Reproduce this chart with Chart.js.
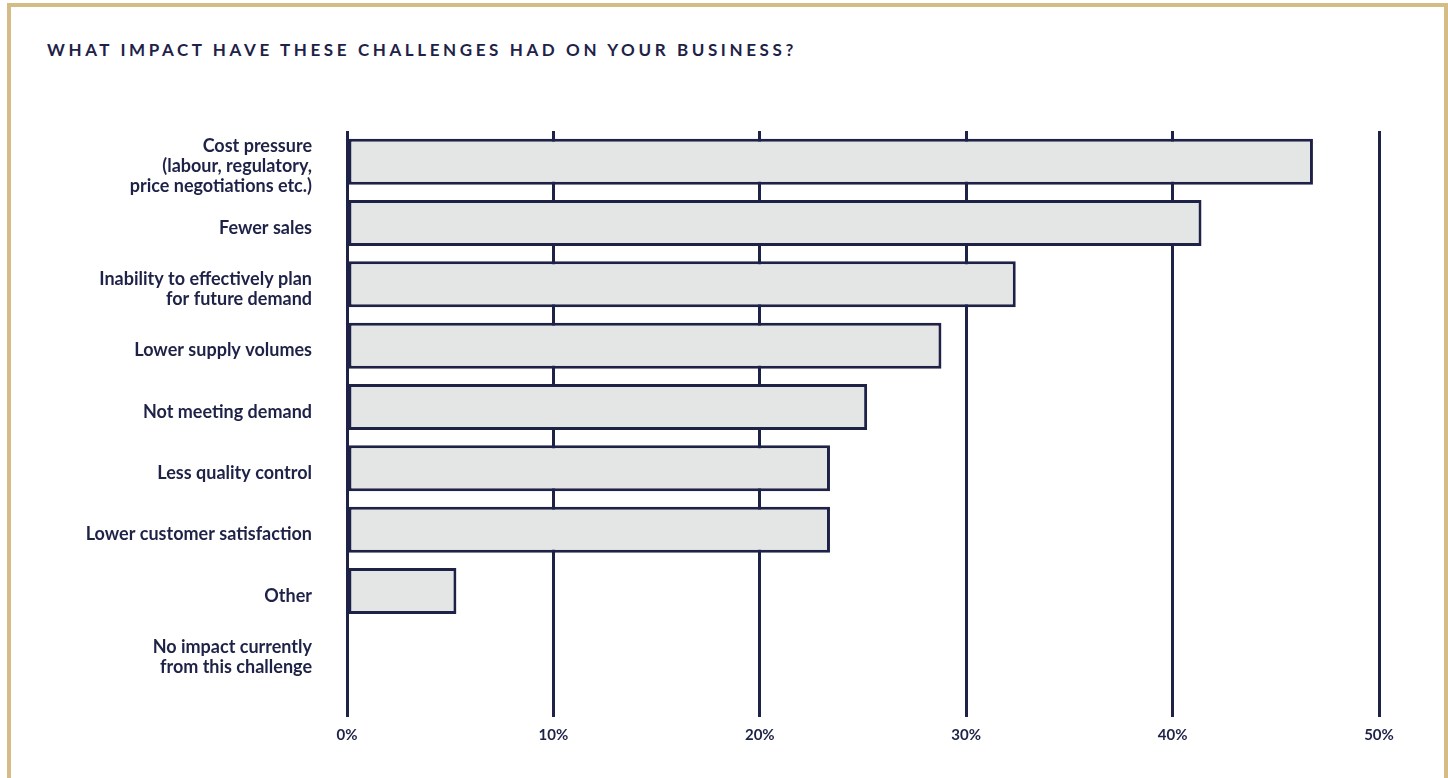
<!DOCTYPE html>
<html>
<head>
<meta charset="utf-8">
<script src="https://cdn.jsdelivr.net/npm/chart.js@4.4.1/dist/chart.umd.min.js"></script>
<style>
  html, body { margin: 0; padding: 0; background: #fff; overflow: hidden; }
  #frame {
    position: absolute; left: 7px; top: 3px;
    width: 1433px; height: 900px;
    border: 4px solid #d5bc87;
  }
  #title {
    position: absolute; left: 47px; top: 39px;
    font-family: Lato, sans-serif; font-size: 17px; font-weight: 700;
    letter-spacing: 3.6px; color: #1e2247;
  }
  #wrap { position: absolute; left: 0; top: 0; width: 1448px; height: 778px; }
</style>
</head>
<body>
<div id="frame"></div>
<div id="title">WHAT IMPACT HAVE THESE CHALLENGES HAD ON YOUR BUSINESS?</div>
<div id="wrap"><canvas id="chart"></canvas></div>
<script>
const categories = [
  ['Cost pressure', '(labour, regulatory,', 'price negotiations etc.)'],
  'Fewer sales',
  ['Inability to effectively plan', 'for future demand'],
  'Lower supply volumes',
  'Not meeting demand',
  'Less quality control',
  'Lower customer satisfaction',
  'Other',
  ['No impact currently', 'from this challenge']
];
const impactShare = [46.8, 41.4, 32.4, 28.8, 25.2, 23.4, 23.4, 5.3, 0];
const tickValues = [0, 10, 20, 30, 40, 50];

const navy = '#1e2247';

const ctx = document.getElementById('chart').getContext('2d');
new Chart(ctx, {
  type: 'bar',
  data: {
    labels: categories,
    datasets: [{
      data: impactShare,
      backgroundColor: '#e4e6e6',
      borderColor: navy,
      borderWidth: 3,
      borderSkipped: false,
      categoryPercentage: 1,
      barPercentage: 0.75
    }]
  },
  options: {
    indexAxis: 'y',
    responsive: true,
    maintainAspectRatio: false,
    animation: false,
    layout: { padding: { top: 131, right: 69, left: 0, bottom: 0 } },
    plugins: {
      legend: { display: false },
      tooltip: { enabled: false }
    },
    scales: {
      x: {
        min: 0,
        max: 50,
        afterBuildTicks: (scale) => {
          scale.ticks = tickValues.map(v => ({ value: v }));
        },
        afterFit: (scale) => { scale.height = 95; },
        grid: {
          color: navy,
          lineWidth: 3,
          drawTicks: true,
          tickLength: 34,
          tickColor: navy,
          tickWidth: 3
        },
        border: { display: false },
        ticks: {
          padding: 9,
          color: navy,
          font: { family: 'Lato', size: 15, weight: 'bold' },
          callback: (v) => v + '%'
        }
      },
      y: {
        afterFit: (scale) => { scale.width = 347; },
        grid: { display: false, drawTicks: false },
        border: { display: false },
        ticks: {
          autoSkip: false,
          padding: 35,
          labelOffset: 5,
          color: navy,
          font: { family: 'Lato', size: 18, weight: 'bold', lineHeight: 1.11 }
        }
      }
    }
  }
});
</script>
</body>
</html>
